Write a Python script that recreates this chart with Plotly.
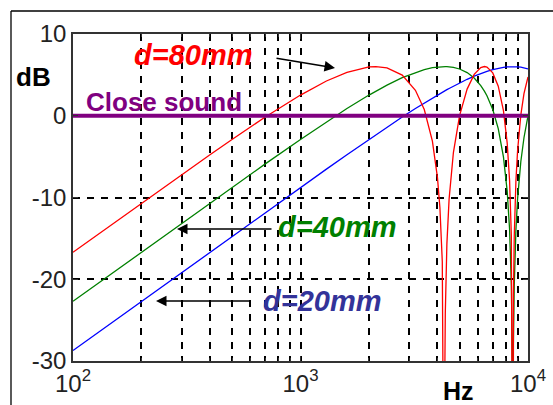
import plotly.graph_objects as go

freq_hz = [100, 150, 200, 300, 400, 500, 700, 1000, 1300, 1600, 2000, 2144, 2400, 2800, 3200,
           3500, 3800, 4000, 4100, 4200, 4250, 4280, 4287, 4300, 4330, 4400, 4500, 4700, 5000,
           5400, 5800, 6200, 6431, 6600, 7000, 7400, 7800, 8100, 8300, 8450, 8520, 8575, 8630,
           8700, 8850, 9000, 9300, 9600, 10000]

db_d80 = [-16.69, -13.18, -10.69, -7.21, -4.76, -2.90, -0.16, 2.53, 4.25, 5.31, 5.97, 6.02, 5.86, 4.98, 3.11,
          0.76, -3.11, -7.57, -11.25, -17.85, -25.20, -39.16, -60.0, -34.75, -24.12, -15.67, -10.17, -4.50, -0.02,
          3.26, 5.06, 5.89, 6.02, 5.95, 5.24, 3.62, 0.63, -3.32, -7.95, -14.75, -21.87, -60.0, -21.88,
          -14.76, -7.95, -4.25, 0.11, 2.70, 4.75]

db_d40 = [-22.70, -19.18, -16.69, -13.18, -10.69, -8.77, -5.89, -2.90, -0.75, 0.88, 2.53, 3.01, 3.75, 4.66, 5.31,
          5.65, 5.88, 5.97, 6.00, 6.02, 6.02, 6.02, 6.02, 6.02, 6.02, 6.01, 5.99, 5.92, 5.72,
          5.28, 4.61, 3.69, 3.01, 2.44, 0.76, -1.57, -5.03, -9.21, -13.92, -20.76, -27.89, -60.0, -27.90,
          -20.77, -13.93, -10.17, -5.60, -2.69, -0.02]

db_d20 = [-28.72, -25.20, -22.70, -19.18, -16.69, -14.75, -11.84, -8.77, -6.53, -4.76, -2.90, -2.32, -1.40, -0.16, 0.88,
          1.56, 2.16, 2.53, 2.70, 2.87, 2.95, 3.00, 3.01, 3.03, 3.08, 3.19, 3.34, 3.62, 4.01,
          4.46, 4.85, 5.17, 5.33, 5.44, 5.65, 5.82, 5.93, 5.99, 6.01, 6.02, 6.02, 6.02, 6.02,
          6.02, 6.01, 5.99, 5.94, 5.86, 5.72]

close_x = [100, 10000]
close_db = [0, 0]

x_major = [100, 1000, 10000]
x_major_text = ["10<sup>2</sup>", "10<sup>3</sup>", "10<sup>4</sup>"]
x_minor = [200, 300, 400, 500, 600, 700, 800, 900, 2000, 3000, 4000, 5000, 6000, 7000, 8000, 9000]
y_ticks = [-30, -20, -10, 0, 10]

W, H = 553, 405
L, R, T, B = 73, 25, 34, 44
PW, PH = W - L - R, H - T - B


def px(x):
    return (x - L) / PW


def py(y):
    return (H - B - y) / PH


fig = go.Figure()
fig.add_trace(go.Scatter(x=freq_hz, y=db_d20, mode="lines", line=dict(color="#0000ff", width=1.3)))
fig.add_trace(go.Scatter(x=freq_hz, y=db_d40, mode="lines", line=dict(color="#008000", width=1.3)))
fig.add_trace(go.Scatter(x=freq_hz, y=db_d80, mode="lines", line=dict(color="#ff0000", width=1.3)))
fig.add_trace(go.Scatter(x=close_x, y=close_db, mode="lines", line=dict(color="#800080", width=4)))

font_main = "Liberation Sans, Arial, sans-serif"
dash = "7px,7px"

fig.update_layout(
    width=W, height=H,
    margin=dict(l=L, r=R, t=T, b=B, autoexpand=False),
    paper_bgcolor="white", plot_bgcolor="white",
    showlegend=False,
    font=dict(family=font_main, color="#222"),
    xaxis=dict(
        type="log", range=[2, 4], automargin=False,
        tickmode="array", tickvals=x_major, ticktext=x_major_text,
        ticks="inside", ticklen=5, tickcolor="#333", mirror="ticks",
        showline=True, linecolor="#333", linewidth=1.5,
        showgrid=True, gridcolor="black", gridwidth=1.6, griddash=dash,
        tickfont=dict(size=24, family=font_main, color="#222"),
        minor=dict(tickmode="array", tickvals=x_minor, ticks="inside", ticklen=3, tickcolor="#333",
                   showgrid=True, gridcolor="black", gridwidth=1.6, griddash=dash),
        zeroline=False,
    ),
    yaxis=dict(
        range=[-30, 10], automargin=False,
        tickmode="array", tickvals=y_ticks, ticktext=[str(v) for v in y_ticks],
        ticks="inside", ticklen=5, tickcolor="#333", mirror="ticks",
        showline=True, linecolor="#333", linewidth=1.5,
        showgrid=True, gridcolor="black", gridwidth=1.6, griddash=dash,
        tickfont=dict(size=24, family=font_main, color="#222"),
        zeroline=False,
    ),
)

# outer frame: top and left edges visible
fig.add_shape(type="line", xref="paper", yref="paper",
              x0=px(11), x1=px(W), y0=py(11), y1=py(11),
              line=dict(color="black", width=1.3), layer="above")
fig.add_shape(type="line", xref="paper", yref="paper",
              x0=px(11), x1=px(11), y0=py(11), y1=py(H),
              line=dict(color="black", width=1.3), layer="above")

texts = [
    ("dB", 33, 77, "black", 26, "normal"),
    ("d=80mm", 193, 55, "#ff0000", 29, "italic"),
    ("Close sound", 164, 102, "#800080", 26, "normal"),
    ("d=40mm", 337, 227, "#008000", 29, "italic"),
    ("d=20mm", 322, 301, "#333399", 29, "italic"),
    ("Hz", 458, 391, "black", 25, "normal"),
]
for t, x, y, c, s, st in texts:
    fig.add_annotation(text="<b>" + t + "</b>", x=px(x), y=py(y), xref="paper", yref="paper",
                       xanchor="center", yanchor="middle", showarrow=False,
                       font=dict(family=font_main, size=s, color=c, style=st))

arrows = [
    ((275, 58), (335, 68)),
    ((273, 229), (177, 229)),
    ((252, 301), (156, 301)),
]
for (tx, ty), (hx, hy) in arrows:
    fig.add_annotation(text="", x=px(hx), y=py(hy), xref="paper", yref="paper",
                       ax=tx - hx, ay=ty - hy, axref="pixel", ayref="pixel",
                       showarrow=True, arrowhead=2, arrowsize=1.4, arrowwidth=1.5, arrowcolor="black")

fig.write_html("out.html", config={"displayModeBar": False},
               post_script="document.body.style.margin='0';document.body.style.overflow='hidden';")
